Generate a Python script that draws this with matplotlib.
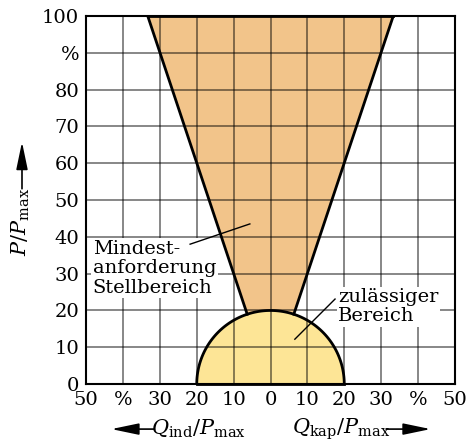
import numpy as np
import matplotlib.pyplot as plt
import matplotlib as mpl

textsize = 14
params = {
    "font.family": "DejaVu Serif",
    "mathtext.fontset": "dejavuserif",
    "font.size": textsize,
    "xtick.labelsize": textsize,
    "ytick.labelsize": textsize,
    "figure.figsize": [4.68, 4.41],
    "figure.dpi": 100,
}
mpl.rcParams.update(params)

# axis ticks (Q and P in % of P_max)
q_ticks = [-50, -40, -30, -20, -10, 0, 10, 20, 30, 40, 50]
q_labels = ["50", "%", "30", "20", "10", "0", "10", "20", "30", "%", "50"]
p_ticks = [0, 10, 20, 30, 40, 50, 60, 70, 80, 90, 100]
p_labels = ["0", "10", "20", "30", "40", "50", "60", "70", "80", "%", "100"]

# minimum requirement: |Q| <= P/3 up to P_max, permitted region: |S| <= 20 %
q_top = [-33.3, 33.3]
p_top = 100
radius = 20

orange = "#f2c48a"
yellow = "#fde596"

fig = plt.figure()
ax = fig.add_axes([0.184, 0.129, 0.788, 0.835])

# band of the required control range, cut off by the circle
k = q_top[1] / p_top
p_cut = radius / np.sqrt(1 + k**2)
a0 = np.arctan2(p_cut, k * p_cut)
arc_a = np.linspace(a0, np.pi - a0, 40)
band_x = [q_top[0], q_top[1], k * p_cut] + list(radius * np.cos(arc_a)) + [-k * p_cut]
band_y = [p_top, p_top, p_cut] + list(radius * np.sin(arc_a)) + [p_cut]
ax.fill(band_x, band_y, color=orange, lw=0, zorder=1)
ax.plot([q_top[0], -k * p_cut], [p_top, p_cut], c="k", lw=2, zorder=4)
ax.plot([q_top[1], k * p_cut], [p_top, p_cut], c="k", lw=2, zorder=4)
ax.plot(q_top, [p_top, p_top], c="k", lw=2, zorder=4, clip_on=False)

# permitted half circle
a = np.linspace(0, np.pi, 100)
ax.fill(radius * np.cos(a), radius * np.sin(a), color=yellow, lw=0, zorder=1)
ax.plot(radius * np.cos(a), radius * np.sin(a), c="k", lw=2, zorder=4)
ax.plot([-radius, radius], [0, 0], c="k", lw=2, zorder=4, clip_on=False)

ax.set_xlim(-50, 50)
ax.set_ylim(0, 100)
ax.set_xticks(q_ticks)
ax.set_xticklabels(q_labels)
ax.set_yticks(p_ticks)
ax.set_yticklabels(p_labels)
ax.tick_params(axis="x", length=0, pad=5)
ax.tick_params(axis="y", length=0, pad=5)
ax.set_axisbelow(False)
ax.grid(True, color="k", alpha=0.55, lw=1.2, zorder=2)
for s in ax.spines.values():
    s.set_linewidth(1.5)
    s.set_zorder(5)

box = dict(facecolor="white", edgecolor="none", pad=1)
ax.text(-48.2, 31.5, "Mindest-\nanforderung\nStellbereich", ha="left", va="center",
        linespacing=1.1, bbox=box, zorder=6)
ax.plot([-21.8, -5.6], [38.0, 43.5], c="k", lw=1, zorder=6)
ax.text(18.3, 21, "zulässiger\nBereich", ha="left", va="center",
        linespacing=1.1, bbox=box, zorder=6)
ax.plot([6.6, 17.5], [12.2, 23.1], c="k", lw=1, zorder=6)

# axis titles with arrows
arrow = dict(arrowstyle="-|>,head_length=1.2,head_width=0.25", color="k", lw=1.2,
             shrinkA=0, shrinkB=0)
fig.text(0.045, 0.497, r"$P/P_{\mathrm{max}}$", rotation=90, ha="center", va="center",
         fontsize=15)
fig.add_artist(mpl.patches.FancyArrowPatch((0.047, 0.572), (0.047, 0.678),
               transform=fig.transFigure, mutation_scale=14, **arrow))
fig.text(0.425, 0.027, r"$Q_{\mathrm{ind}}/P_{\mathrm{max}}$", ha="center", va="center",
         fontsize=15)
fig.add_artist(mpl.patches.FancyArrowPatch((0.33, 0.027), (0.238, 0.027),
               transform=fig.transFigure, mutation_scale=14, **arrow))
fig.text(0.73, 0.027, r"$Q_{\mathrm{kap}}/P_{\mathrm{max}}$", ha="center", va="center",
         fontsize=15)
fig.add_artist(mpl.patches.FancyArrowPatch((0.825, 0.027), (0.92, 0.027),
               transform=fig.transFigure, mutation_scale=14, **arrow))

fig.savefig("out.png", dpi=100)
